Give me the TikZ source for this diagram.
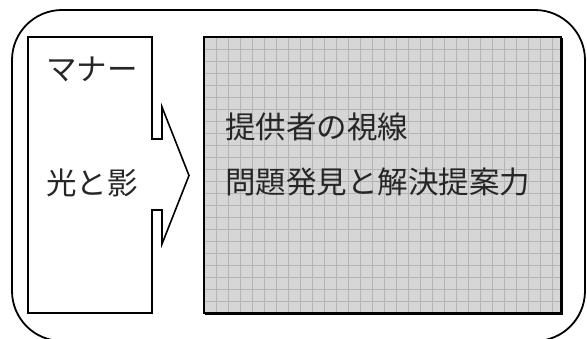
\documentclass[tikz,border=0pt]{standalone}
\usepackage{fontspec}
\newfontfamily\jp{Noto Sans CJK JP}
\definecolor{boxgray}{HTML}{D6D6D6}
\definecolor{gridgray}{HTML}{B4B4B4}
\begin{document}
\begin{tikzpicture}[x=1pt,y=-1pt,
  outline/.style={draw=black,line width=1.6pt,line join=miter},
  label/.style={font=\jp\fontsize{30.5}{31}\selectfont,anchor=west,inner sep=0pt,text=black!85}]
\useasboundingbox (0,0) rectangle (587,338);
% outer rounded frame
\draw[line width=1.8pt,rounded corners=50pt] (12,10) rectangle (585,341);
% left box with arrow
\draw[outline] (28,37) -- (152,37) -- (152,139) -- (162,139) -- (162,107)
  -- (189,175.5) -- (162,244) -- (162,210) -- (152,210) -- (152,313)
  -- (28,313) -- cycle;
% gray box
\fill[boxgray] (204,37) rectangle (561,313);
\begin{scope}
\clip (204,37) rectangle (561,313);
\foreach \x in {216,228,...,556} \draw[gridgray,line width=0.6pt] (\x,37) -- (\x,313);
\foreach \y in {49,61,...,312} \draw[gridgray,line width=0.6pt] (204,\y) -- (561,\y);
\end{scope}
\draw[black,line width=1.3pt] (204,37) rectangle (561,313);
\draw[black,line width=2.2pt] (562,38) -- (562,314) -- (205,314);
% texts
\node[label] (manner) at (46,69) {マナー};
\node[label] (hikari) at (46,183) {光と影};
\node[label] (shisen) at (225,127) {提供者の視線};
\node[label] (mondai) at (225,182) {問題発見と解決提案力};
\end{tikzpicture}
\end{document}
